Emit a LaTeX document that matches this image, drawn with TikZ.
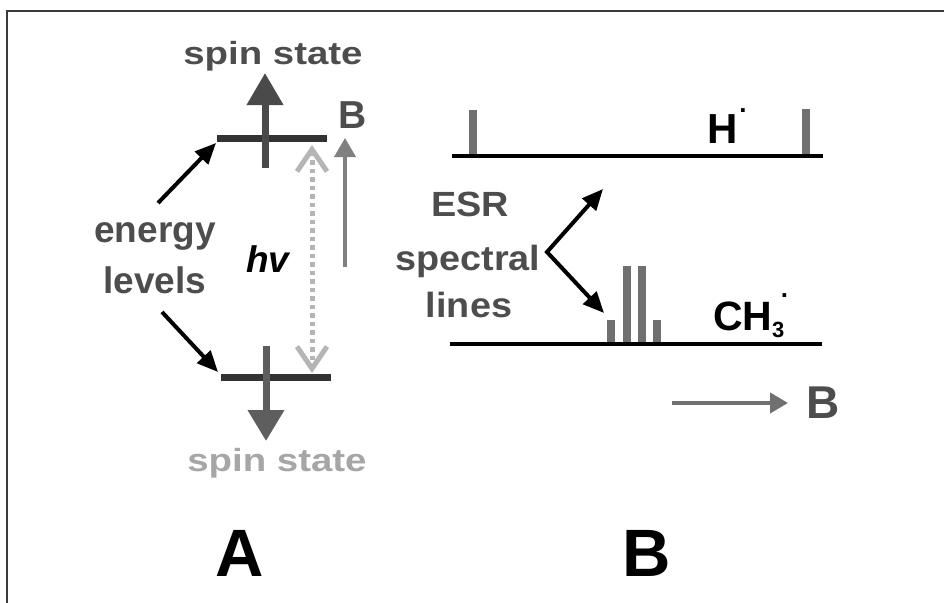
\documentclass[tikz,border=0pt]{standalone}
\usepackage{fontspec}
\usepackage{graphicx}
\setmainfont{Liberation Sans}
\usetikzlibrary{arrows.meta}
\definecolor{txtgray}{HTML}{4D4D4D}
\definecolor{lvl}{HTML}{333333}
\definecolor{spinup}{HTML}{4A4A4A}
\definecolor{spindn}{HTML}{5E5E5E}
\definecolor{midgray}{HTML}{808080}
\definecolor{lightg}{HTML}{B5B5B5}
\definecolor{palegray}{HTML}{A6A6A6}
\definecolor{peak}{HTML}{707070}
\definecolor{framec}{HTML}{3A3A3A}
\newcommand{\fsz}[1]{\fontsize{#1}{#1}\selectfont}
\newcommand{\raddot}[1]{\raisebox{#1}{\fsz{26}.}}
\begin{document}
\begin{tikzpicture}[x=1pt,y=-1pt,
  txt/.style={inner sep=0pt, outer sep=0pt},
  lvlline/.style={line width=7pt, lvl},
  blkarrow/.style={line width=4pt, black, -{Triangle[length=21pt,width=18pt]}},
  spectline/.style={line width=4.5pt, black},
  peakbar/.style={fill=peak}]
\useasboundingbox (0,0) rectangle (944,602);
\fill[white] (0,0) rectangle (944,602);
\draw[framec, line width=2pt] (944,11) -- (7,11) -- (7,603);

% ---------- panel A ----------
\node[txt, anchor=base, text=txtgray, font=\bfseries\fsz{32}] (spinup) at (273,64) {\scalebox{1.2}[1]{spin state}};
\node[txt, anchor=base, text=palegray, font=\bfseries\fsz{32}] (spindown) at (277,471) {\scalebox{1.2}[1]{spin state}};

\coordinate (upL) at (217,138);
\coordinate (upR) at (327,138);
\coordinate (loL) at (221,377);
\coordinate (loR) at (331,377);
\draw[lvlline] (upL) -- (upR);
\draw[lvlline] (loL) -- (loR);

\coordinate (suS) at (265,168);
\coordinate (suT) at (265,73);
\draw[line width=7pt, spinup, -{Triangle[length=32pt,width=35pt]}] (suS) -- (suT);
\coordinate (sdS) at (266,346);
\coordinate (sdT) at (266,441);
\draw[line width=7pt, spindn, -{Triangle[length=31pt,width=35pt]}] (sdS) -- (sdT);

\node[txt, anchor=base, text=txtgray, font=\bfseries\fsz{39}] (Bfield) at (353,128) {B};
\coordinate (bS) at (345,267);
\coordinate (bT) at (345,138);
\draw[line width=4pt, midgray, -{Triangle[length=19pt,width=21pt]}] (bS) -- (bT);

\coordinate (hvT) at (312,145);
\coordinate (hvB) at (312,373);
\draw[lightg, line width=5pt, dash pattern=on 4.5pt off 4pt,
  {Straight Barb[length=22pt,width=30pt,line width=5pt]}-{Straight Barb[length=22pt,width=30pt,line width=5pt]}] (hvT) -- (hvB);
\node[txt, anchor=base west, font=\bfseries\itshape\fsz{37}] (hv) at (246,272) {hv};

\node[txt, anchor=base, text=txtgray, font=\bfseries\fsz{37}] (en1) at (155,242) {energy};
\node[txt, anchor=base, text=txtgray, font=\bfseries\fsz{37}] (en2) at (155,293) {levels};
\coordinate (e1s) at (158,203);
\coordinate (e1t) at (216,143);
\coordinate (e2s) at (162,312);
\coordinate (e2t) at (218,372);
\draw[blkarrow] (e1s) -- (e1t);
\draw[blkarrow] (e2s) -- (e2t);

\node[txt, anchor=base, font=\bfseries\fsz{67}] (labA) at (240,576) {A};

% ---------- panel B ----------
\fill[peakbar] (469,110) rectangle (477,156);
\fill[peakbar] (802,109) rectangle (810,156);
\coordinate (hL) at (452,156);
\coordinate (hR) at (823,156);
\draw[spectline] (hL) -- (hR);
\node[txt, anchor=base west, font=\bfseries\fsz{42}] (hrad) at (707,143) {H\kern2pt\raddot{31pt}};

\fill[peakbar] (607,320) rectangle (615,344);
\fill[peakbar] (623,266) rectangle (631,344);
\fill[peakbar] (638,266) rectangle (646,344);
\fill[peakbar] (653,320) rectangle (661,344);
\coordinate (cL) at (450,344);
\coordinate (cR) at (822,344);
\draw[spectline] (cL) -- (cR);
\node[txt, anchor=base west, font=\bfseries\fsz{41}] (ch3) at (713,330) {CH\raisebox{-7pt}{\fsz{22}3}\kern-3.5pt\raddot{33pt}};

\node[txt, anchor=base, text=txtgray, font=\bfseries\fsz{35}] (esr1) at (470,216) {\scalebox{1.08}[1]{ESR}};
\node[txt, anchor=base, text=txtgray, font=\bfseries\fsz{35}] (esr2) at (468,270) {\scalebox{1.08}[1]{spectral}};
\node[txt, anchor=base, text=txtgray, font=\bfseries\fsz{35}] (esr3) at (469,317) {\scalebox{1.08}[1]{lines}};
\coordinate (vtx) at (547,252);
\coordinate (vT) at (603,189);
\coordinate (vB) at (604,313);
\draw[line width=4pt, black, line join=miter,
  {Triangle[length=21pt,width=18pt]}-{Triangle[length=21pt,width=18pt]}] (vT) -- (vtx) -- (vB);

\coordinate (gS) at (672,403);
\coordinate (gT) at (788,403);
\draw[line width=4pt, peak, -{Triangle[length=18pt,width=20pt]}] (gS) -- (gT);
\node[txt, anchor=base, text=txtgray, font=\bfseries\fsz{46}] (Bax) at (823,418) {B};

\node[txt, anchor=base, font=\bfseries\fsz{67}] (labB) at (647,576) {B};
\end{tikzpicture}
\end{document}
